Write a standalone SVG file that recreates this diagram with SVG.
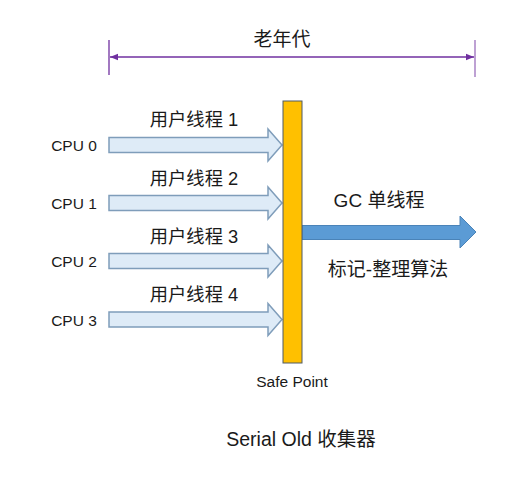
<svg xmlns="http://www.w3.org/2000/svg" width="524" height="477" viewBox="0 0 524 477">
<defs>
<style>
text{font-family:"Liberation Sans","Noto Sans CJK SC",sans-serif;fill:#1a1a1a}
.cpu{font-size:15.5px}
.lbl{font-size:18.3px}
.big{font-size:19px}
.ua{fill:#DEEBF7;stroke:#7F9DBA;stroke-width:1.5}
.brk{stroke:#7030A0;stroke-width:1.3;fill:none}
</style>
<marker id="ah" viewBox="0 0 10 10" refX="10" refY="5" markerWidth="8" markerHeight="8" markerUnits="userSpaceOnUse" orient="auto-start-reverse">
<path d="M0,1 L10,5 L0,9 z" fill="#7030A0"/>
</marker>
</defs>
<rect width="524" height="477" fill="#fff"/>
<g id="span">
<line class="brk" x1="109" y1="40" x2="109" y2="75"/>
<line class="brk" x1="475" y1="40" x2="475" y2="77" stroke-opacity="0.7"/>
<line class="brk" x1="110" y1="57" x2="474" y2="57" marker-start="url(#ah)" marker-end="url(#ah)"/>
<text class="big" x="282" y="46" text-anchor="middle">老年代</text>
</g>
<g id="connectors">
<path class="ua" d="M109,137.5 H268 V129 L282,145 L268,161 V152.5 H109 Z"/>
<path class="ua" d="M109,195.5 H268 V187 L282,203 L268,219 V210.5 H109 Z"/>
<path class="ua" d="M109,253.5 H268 V245 L282,261 L268,277 V268.5 H109 Z"/>
<path class="ua" d="M109,312 H268 V303.5 L282,319.5 L268,335.5 V327 H109 Z"/>
<path d="M302,225.5 H460 V216 L476,232 L460,248 V239.5 H302 Z" fill="#5B9BD5" stroke="#4A83B8" stroke-width="1"/>
</g>
<g id="safepoint">
<rect x="283" y="101" width="19" height="262" fill="#FFC000" stroke="#4F5B66" stroke-width="1"/>
<text x="292" y="387" text-anchor="middle" font-size="15.5">Safe Point</text>
</g>
<g id="cpu0"><text class="cpu" x="74" y="150.5" text-anchor="middle">CPU 0</text><text class="lbl" x="194" y="126" text-anchor="middle">用户线程 1</text></g>
<g id="cpu1"><text class="cpu" x="74" y="208.5" text-anchor="middle">CPU 1</text><text class="lbl" x="194" y="185" text-anchor="middle">用户线程 2</text></g>
<g id="cpu2"><text class="cpu" x="74" y="266.5" text-anchor="middle">CPU 2</text><text class="lbl" x="194" y="243" text-anchor="middle">用户线程 3</text></g>
<g id="cpu3"><text class="cpu" x="74" y="325.5" text-anchor="middle">CPU 3</text><text class="lbl" x="194" y="301" text-anchor="middle">用户线程 4</text></g>
<g id="gc">
<text class="big" x="379" y="207" text-anchor="middle">GC 单线程</text>
<text class="big" x="388" y="276" text-anchor="middle">标记-整理算法</text>
</g>
<text x="301" y="446" text-anchor="middle" font-size="19.5">Serial Old 收集器</text>
</svg>
